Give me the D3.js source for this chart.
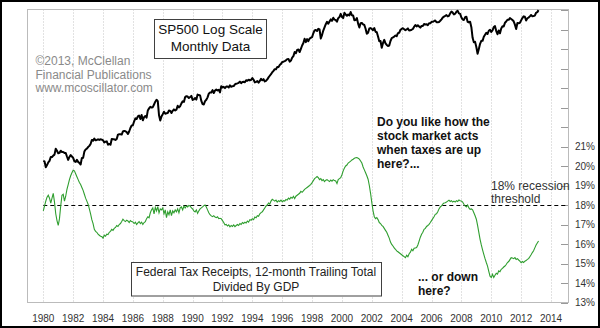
<!DOCTYPE html>
<html lang="en">
<head>
<meta charset="UTF-8">
<title>SP500 vs Federal Tax Receipts / GDP</title>
<script src="https://d3js.org/d3.v7.min.js"></script>
<style>
    body { margin: 0; background: #fff; }
    svg { display: block; font-family: Arial, "Liberation Sans", sans-serif; }
    .note { font-size: 12px; font-weight: bold; fill: #111; }
    .axis-label { font-size: 10px; fill: #333; }
</style>
</head>
<body>
<div id="chart"></div>
<script>
    // tick labels
    const yearTicks = d3.range(1980, 2015, 2);
    const pctTicks = d3.range(13, 29);
    const pctLabels = [13, 14, 15, 16, 17, 18, 19, 20, 21];

    // monthly data, starting Jan 1980
    const startYear = 1980;
    const sp500 = [
        114, 113, 102, 106, 111, 114, 122, 122, 125, 127, 141, 136,
        130, 131, 136, 133, 133, 131, 131, 123, 116, 122, 126, 123,
        120, 113, 112, 116, 112, 110, 107, 120, 120, 134, 139, 141,
        145, 148, 153, 164, 162, 168, 163, 164, 166, 164, 166, 165,
        163, 157, 159, 160, 151, 153, 151, 167, 166, 166, 164, 167,
        180, 181, 181, 180, 190, 192, 191, 188, 182, 190, 202, 211,
        212, 227, 239, 236, 247, 251, 236, 253, 231, 244, 249, 242,
        274, 284, 292, 288, 290, 304, 319, 330, 322, 252, 230, 247,
        257, 268, 259, 261, 262, 274, 272, 262, 272, 279, 274, 278,
        297, 289, 295, 310, 321, 318, 346, 351, 349, 340, 346, 353,
        329, 332, 340, 331, 361, 358, 356, 323, 306, 304, 322, 330,
        344, 367, 375, 375, 390, 371, 388, 395, 388, 392, 375, 417,
        409, 413, 404, 415, 415, 408, 424, 414, 418, 419, 431, 436,
        439, 443, 452, 440, 450, 451, 448, 464, 459, 468, 462, 466,
        482, 467, 446, 451, 457, 444, 458, 475, 463, 472, 454, 459,
        470, 487, 501, 515, 533, 545, 562, 562, 584, 582, 605, 616,
        636, 640, 646, 654, 669, 671, 640, 652, 687, 705, 757, 741,
        786, 791, 757, 801, 848, 885, 954, 899, 947, 915, 955, 970,
        980, 1049, 1102, 1112, 1091, 1134, 1121, 957, 1017, 1099, 1164, 1229,
        1280, 1238, 1286, 1335, 1302, 1373, 1329, 1320, 1283, 1363, 1389, 1469,
        1394, 1366, 1499, 1452, 1421, 1455, 1431, 1518, 1437, 1429, 1315, 1320,
        1366, 1240, 1160, 1249, 1256, 1224, 1211, 1134, 1041, 1060, 1139, 1148,
        1130, 1107, 1147, 1077, 1067, 990, 912, 916, 815, 886, 936, 880,
        856, 841, 848, 917, 964, 975, 990, 1008, 996, 1051, 1058, 1112,
        1131, 1145, 1126, 1107, 1121, 1141, 1102, 1104, 1115, 1130, 1174, 1212,
        1181, 1204, 1181, 1157, 1192, 1191, 1234, 1220, 1229, 1207, 1249, 1248,
        1280, 1281, 1295, 1311, 1270, 1270, 1277, 1304, 1336, 1378, 1401, 1418,
        1438, 1407, 1421, 1482, 1531, 1503, 1455, 1474, 1527, 1549, 1481, 1468,
        1379, 1331, 1323, 1386, 1400, 1280, 1267, 1283, 1165, 969, 896, 903,
        826, 735, 798, 873, 919, 919, 987, 1021, 1057, 1036, 1096, 1115,
        1074, 1104, 1169, 1187, 1089, 1031, 1102, 1049, 1141, 1183, 1181, 1258,
        1286, 1327, 1326, 1364, 1345, 1321, 1292, 1219, 1131, 1253, 1247, 1258,
        1312, 1366, 1408, 1398, 1310, 1362, 1379, 1407, 1441, 1412, 1416, 1426,
        1498, 1515, 1569
    ];

    const taxPct = [
        17.70, 17.95, 18.20, 18.40, 18.50, 18.35, 18.10, 18.35, 18.60, 18.15, 17.55, 17.20,
        16.95, 17.30, 17.95, 18.50, 18.55, 18.20, 18.45, 18.80, 19.05, 19.30, 19.50, 19.65,
        19.78, 19.75, 19.60, 19.45, 19.30, 19.15, 19.05, 18.90, 18.75, 18.55, 18.35, 18.20,
        18.04, 17.80, 17.55, 17.25, 17.05, 16.75, 16.65, 16.60, 16.50, 16.45, 16.40, 16.38,
        16.30, 16.45, 16.40, 16.50, 16.48, 16.60, 16.65, 16.75, 16.70, 16.80, 16.85, 16.95,
        16.90, 17.00, 17.05, 17.15, 17.27, 17.20, 17.15, 17.22, 17.18, 17.10, 17.20, 17.15,
        17.13, 17.05, 17.12, 17.00, 17.08, 17.15, 17.05, 17.12, 17.00, 17.10, 17.15, 17.30,
        17.40, 17.35, 17.60, 17.75, 17.85, 17.55, 17.88, 17.70, 17.92, 17.60, 17.80, 17.75,
        17.85, 17.55, 17.75, 17.35, 17.65, 17.50, 17.75, 17.45, 17.70, 17.60, 17.75, 17.65,
        17.80, 17.60, 17.85, 17.90, 17.75, 17.95, 17.85, 17.95, 17.90, 17.98, 17.95, 17.85,
        17.80, 17.70, 17.65, 17.75, 17.57, 17.70, 17.80, 17.85, 17.90, 17.97, 18.00, 17.90,
        17.75, 17.60, 17.50, 17.44, 17.40, 17.45, 17.38, 17.35, 17.40, 17.30, 17.32, 17.30,
        17.20, 17.10, 16.98, 17.00, 16.92, 16.98, 16.88, 16.95, 16.90, 16.98, 16.89, 16.95,
        17.00, 16.95, 17.05, 17.00, 17.10, 17.05, 17.12, 17.08, 17.18, 17.12, 17.25, 17.22,
        17.30, 17.25, 17.38, 17.35, 17.45, 17.42, 17.55, 17.61, 17.65, 17.75, 17.85, 17.95,
        18.00, 18.10, 18.05, 18.20, 18.29, 18.25, 18.20, 18.25, 18.15, 18.22, 18.18, 18.25,
        18.17, 18.22, 18.20, 18.28, 18.25, 18.35, 18.30, 18.40, 18.35, 18.45, 18.33, 18.45,
        18.50, 18.55, 18.60, 18.70, 18.65, 18.72, 18.80, 18.85, 18.90, 18.95, 19.00, 19.06,
        19.15, 19.25, 19.35, 19.40, 19.46, 19.40, 19.30, 19.35, 19.25, 19.30, 19.20, 19.27,
        19.30, 19.25, 19.20, 19.28, 19.22, 19.30, 19.25, 19.23, 19.10, 19.30, 19.35, 19.40,
        19.55, 19.75, 19.90, 20.00, 20.05, 20.15, 20.20, 20.25, 20.31, 20.35, 20.40, 20.42,
        20.43, 20.40, 20.35, 20.26, 20.15, 19.95, 19.80, 19.65, 19.50, 19.32, 19.00, 18.60,
        18.12, 17.70, 17.40, 17.30, 17.35, 17.25, 17.10, 17.05, 16.96, 16.90, 16.80, 16.70,
        16.60, 16.45, 16.30, 16.10, 15.98, 15.90, 15.80, 15.73, 15.65, 15.60, 15.55, 15.50,
        15.45, 15.40, 15.35, 15.30, 15.42, 15.35, 15.50, 15.58, 15.73, 15.65, 15.78, 15.80,
        15.82, 15.95, 16.15, 16.35, 16.50, 16.60, 16.75, 16.80, 16.90, 16.95, 17.01, 17.10,
        17.20, 17.30, 17.40, 17.52, 17.55, 17.65, 17.80, 17.90, 17.95, 18.05, 18.10, 18.12,
        18.15, 18.20, 18.25, 18.18, 18.22, 18.15, 18.20, 18.15, 18.22, 18.18, 18.26, 18.22,
        18.20, 18.15, 18.04, 17.95, 17.90, 18.00, 17.85, 17.78, 17.80, 17.75, 17.60, 17.45,
        17.27, 16.95, 16.60, 16.24, 15.95, 15.70, 15.47, 15.25, 15.05, 14.87, 14.60, 14.35,
        14.28, 14.45, 14.28, 14.40, 14.50, 14.45, 14.62, 14.58, 14.70, 14.75, 14.82, 14.87,
        14.95, 15.05, 15.10, 15.20, 15.30, 15.28, 15.25, 15.30, 15.21, 15.25, 15.18, 15.12,
        15.04, 15.10, 15.05, 15.12, 15.15, 15.21, 15.25, 15.35, 15.45, 15.56, 15.65, 15.80,
        15.95, 16.05, 16.15
    ];
    const recessionLevel = 18;

    const width = 600, height = 328;
    const plot = { left: 27, right: 568, top: 9.5, bottom: 302.5 };

    const svg = d3.select("#chart").append("svg")
        .attr("width", width)
        .attr("height", height);

    svg.append("rect")
        .attr("x", 1).attr("y", 1)
        .attr("width", width - 2).attr("height", height - 2)
        .attr("fill", "#fff")
        .attr("stroke", "#000")
        .attr("stroke-width", 2);

    const x = d3.scaleLinear().domain([1980, 2014]).range([43.3, 551]);
    const yPct = d3.scaleLinear().domain([13, 21]).range([302.5, 146.5]);
    const ySp = d3.scaleLog().domain([100, 1500]).range([168.4, 12.7]);

    const monthX = i => x(startYear + i / 12);

    // vertical dotted grid
    svg.append("g").selectAll("line")
        .data(yearTicks)
        .enter().append("line")
        .attr("x1", d => Math.round(x(d)) + 0.5)
        .attr("x2", d => Math.round(x(d)) + 0.5)
        .attr("y1", plot.top)
        .attr("y2", plot.bottom)
        .attr("stroke", "#c4c4c4")
        .attr("stroke-dasharray", "1,2");

    // plot frame
    svg.append("rect")
        .attr("x", plot.left + 0.5).attr("y", plot.top)
        .attr("width", plot.right - plot.left)
        .attr("height", plot.bottom - plot.top)
        .attr("fill", "none")
        .attr("stroke", "#bbb");

    // right ticks
    svg.append("g").selectAll("line")
        .data(pctTicks)
        .enter().append("line")
        .attr("x1", plot.right - 7)
        .attr("x2", plot.right)
        .attr("y1", d => Math.round(yPct(d)) + 0.5)
        .attr("y2", d => Math.round(yPct(d)) + 0.5)
        .attr("stroke", "#999");

    // axis labels
    svg.append("g").selectAll("text")
        .data(yearTicks)
        .enter().append("text")
        .attr("class", "axis-label")
        .attr("x", d => x(d))
        .attr("y", 322)
        .attr("text-anchor", "middle")
        .text(d => d);

    svg.append("g").selectAll("text")
        .data(pctLabels)
        .enter().append("text")
        .attr("class", "axis-label")
        .attr("x", 575)
        .attr("y", d => yPct(d) + 3.6)
        .text(d => d + "%");

    // 18% threshold
    svg.append("line")
        .attr("x1", x(1980))
        .attr("x2", plot.right)
        .attr("y1", Math.round(yPct(recessionLevel)) + 0.5)
        .attr("y2", Math.round(yPct(recessionLevel)) + 0.5)
        .attr("stroke", "#000")
        .attr("stroke-dasharray", "4,3");

    // lines
    svg.append("path")
        .datum(taxPct)
        .attr("fill", "none")
        .attr("stroke", "#2f9e2f")
        .attr("stroke-width", 1.1)
        .attr("d", d3.line().x((d, i) => monthX(i)).y(d => yPct(d)));

    svg.append("path")
        .datum(sp500)
        .attr("fill", "none")
        .attr("stroke", "#000")
        .attr("stroke-width", 2)
        .attr("stroke-linejoin", "round")
        .attr("d", d3.line().x((d, i) => monthX(i)).y(d => ySp(d)));

    // SP500 box
    svg.append("rect")
        .attr("x", 154.5).attr("y", 19.5)
        .attr("width", 112).attr("height", 39)
        .attr("fill", "#fff")
        .attr("stroke", "#404040");
    svg.append("text")
        .attr("x", 210.5).attr("y", 34)
        .attr("text-anchor", "middle")
        .style("font-size", "13.5px").style("fill", "#111")
        .text("SP500 Log Scale");
    svg.append("text")
        .attr("x", 210.5).attr("y", 51)
        .attr("text-anchor", "middle")
        .style("font-size", "13.5px").style("fill", "#111")
        .text("Monthly Data");

    // copyright
    const copy = ["©2013, McClellan", "Financial Publications", "www.mcoscillator.com"];
    svg.append("g").selectAll("text")
        .data(copy)
        .enter().append("text")
        .attr("x", 35.5)
        .attr("y", (d, i) => 65 + i * 13.5)
        .style("font-size", "12px")
        .style("fill", "#8a8a8a")
        .text(d => d);

    // annotations
    const upNote = ["Do you like how the", "stock market acts", "when taxes are up", "here?..."];
    svg.append("g").selectAll("text")
        .data(upNote)
        .enter().append("text")
        .attr("class", "note")
        .attr("x", 377)
        .attr("y", (d, i) => 126 + i * 13.9)
        .text(d => d);

    const downNote = ["... or down", "here?"];
    svg.append("g").selectAll("text")
        .data(downNote)
        .enter().append("text")
        .attr("class", "note")
        .attr("x", 418)
        .attr("y", (d, i) => 281 + i * 14)
        .text(d => d);

    const threshNote = ["18% recession", "threshold"];
    svg.append("g").selectAll("text")
        .data(threshNote)
        .enter().append("text")
        .attr("x", 491)
        .attr("y", (d, i) => 189.5 + i * 13.5)
        .style("font-size", "12px")
        .style("fill", "#333")
        .text(d => d);

    // tax box
    svg.append("rect")
        .attr("x", 131.5).attr("y", 262.5)
        .attr("width", 250).attr("height", 33.5)
        .attr("fill", "#fff")
        .attr("stroke", "#404040");
    const taxNote = ["Federal Tax Receipts, 12-month Trailing Total", "Divided By GDP"];
    svg.append("g").selectAll("text")
        .data(taxNote)
        .enter().append("text")
        .attr("x", 256)
        .attr("y", (d, i) => 276 + i * 15)
        .attr("text-anchor", "middle")
        .style("font-size", "12px")
        .style("fill", "#222")
        .text(d => d);
</script>
</body>
</html>
